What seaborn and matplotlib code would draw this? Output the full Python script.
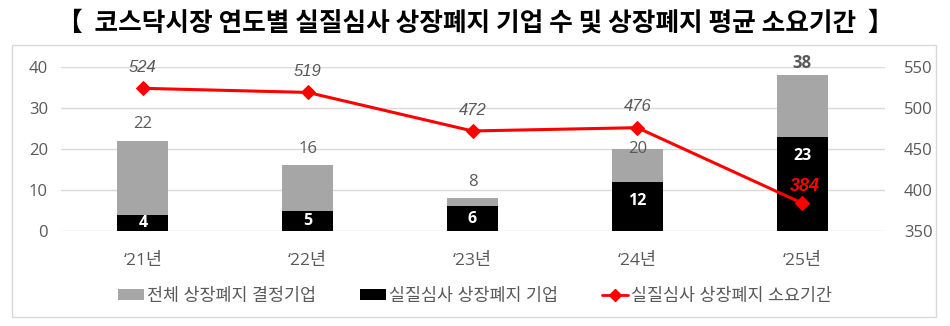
import matplotlib
matplotlib.use("Agg")
import matplotlib.pyplot as plt
import seaborn as sns
import pandas as pd
from matplotlib.patches import Rectangle, Patch
from matplotlib.lines import Line2D

years = ["‘21년", "‘22년", "‘23년", "‘24년", "‘25년"]
total_delisted = [22, 16, 8, 20, 38]
review_delisted = [4, 5, 6, 12, 23]
avg_days = [524, 519, 472, 476, 384]
title = "【  코스닥시장 연도별 실질심사 상장폐지 기업 수 및 상장폐지 평균 소요기간  】"
legend_labels = ["전체 상장폐지 결정기업", "실질심사 상장폐지 기업", "실질심사 상장폐지 소요기간"]

sns.set_theme(style="white")
plt.rcParams["font.family"] = ["Open Sans", "Noto Sans CJK KR", "DejaVu Sans"]

df = pd.DataFrame({"year": years, "total": total_delisted,
                   "review": review_delisted, "days": avg_days})

GRAY = "#A6A6A6"
TXT = "#595959"
RED = "#FF0000"
ITAL = ["Liberation Sans", "DejaVu Sans"]

fig = plt.figure(figsize=(9.5, 3.26), dpi=100)
fig.patches.append(Rectangle((12 / 950, 9 / 326), 924 / 950, 272 / 326,
                             transform=fig.transFigure, fill=False,
                             edgecolor="#D9D9D9", linewidth=1.0))
fig.text(0.5, 0.93, title, ha="center", va="center", fontsize=18.5,
         fontweight="bold", color="black",
         family=["Noto Sans CJK KR", "DejaVu Sans"])

ax = fig.add_axes([60.5 / 950, 95 / 326, 824 / 950, 164 / 326])
sns.barplot(data=df, x="year", y="total", color=GRAY, width=0.31,
            saturation=1, linewidth=0, ax=ax, zorder=2)
sns.barplot(data=df, x="year", y="review", color="black", width=0.31,
            saturation=1, linewidth=0, ax=ax, zorder=3)
ax.set_ylim(0, 40)
ax.set_yticks([0, 10, 20, 30, 40])
ax.set_xlim(-0.5, len(years) - 0.5)
ax.grid(axis="y", color="#D9D9D9", linewidth=1, zorder=0)
ax.set_axisbelow(True)
ax.set_xlabel("")
ax.set_ylabel("")
for s in ax.spines.values():
    s.set_visible(False)
ax.tick_params(axis="y", length=0, labelsize=12, labelcolor=TXT, pad=9)
ax.tick_params(axis="x", length=0, labelsize=12.5, labelcolor=TXT, pad=16)

n = len(years)
for i, (t, r) in enumerate(zip(total_delisted, review_delisted)):
    last = i == n - 1
    # label of '24 sits on the bar top to avoid the line label
    dy = 0 if i == 3 else (9 if last else 12)
    ax.annotate(str(t), (i, t), xytext=(0, dy), textcoords="offset points",
                ha="center", va="center", fontsize=12, color=TXT,
                fontweight="bold" if last else "normal")
    if r < 10:
        ax.annotate(str(r), (i, r / 2), ha="center", va="center",
                    fontsize=11.5, color="white", fontweight="bold")
    else:
        ax.annotate(str(r), (i, r), xytext=(0, -14), textcoords="offset points",
                    ha="center", va="center", fontsize=11.5, color="white",
                    fontweight="bold")

ax2 = ax.twinx()
sns.lineplot(data=df, x="year", y="days", color=RED, marker="D",
             markersize=7, markeredgecolor=RED, linewidth=2.2, sort=False,
             ax=ax2, zorder=5)
ax2.set_ylim(350, 550)
ax2.set_yticks([350, 400, 450, 500, 550])
ax2.set_xlim(-0.5, n - 0.5)
ax2.set_ylabel("")
for s in ax2.spines.values():
    s.set_visible(False)
ax2.tick_params(axis="y", length=0, labelsize=12, labelcolor=TXT, pad=14)
ax2.grid(False)

for i, d in enumerate(avg_days):
    last = i == n - 1
    ax2.annotate(str(d), (i, d), xytext=(2 if last else 0, 12 if last else 15),
                 textcoords="offset points", ha="center", va="center",
                 fontsize=13 if last else 12, style="italic", family=ITAL,
                 color=RED if last else TXT,
                 fontweight="bold" if last else "normal")

handles = [Patch(facecolor=GRAY, edgecolor="none"),
           Patch(facecolor="black", edgecolor="none"),
           Line2D([0], [0], color=RED, marker="D", markersize=6, linewidth=2)]
fig.legend(handles, legend_labels, loc="center", bbox_to_anchor=(0.5, 0.09),
           ncol=3, frameon=False, fontsize=12.5, labelcolor=TXT,
           handlelength=1.5, handleheight=0.6, handletextpad=0.2,
           columnspacing=2.5)

fig.savefig("out.png", dpi=100)
